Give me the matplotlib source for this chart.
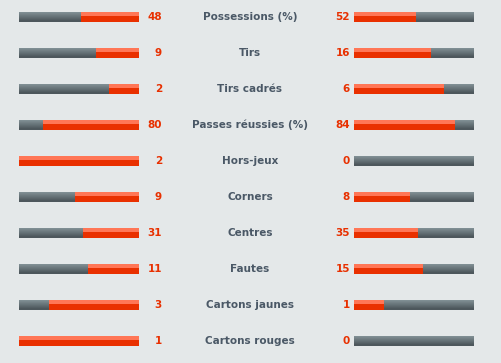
import numpy as np
import matplotlib
matplotlib.use("Agg")
import matplotlib.pyplot as plt
from matplotlib.colors import to_rgb

labels = ["Possessions (%)", "Tirs", "Tirs cadrés", "Passes réussies (%)", "Hors-jeux",
          "Corners", "Centres", "Fautes", "Cartons jaunes", "Cartons rouges"]
home = [48, 9, 2, 80, 2, 9, 31, 11, 3, 1]
away = [52, 16, 6, 84, 0, 8, 35, 15, 1, 0]

bg = "#e4e8e9"
red_top = "#ff7656"
red_bot = "#e93000"
gray_top = "#7f8e93"
gray_bot = "#4d575c"
txt_red = "#e83000"
txt_lab = "#4a5866"

W, H = 501, 363
fig = plt.figure(figsize=(W / 100, H / 100), dpi=100, facecolor=bg)

home = np.array(home, float)
away = np.array(away, float)
# percentage rows are scaled to 100, the others to the sum of both teams
tot = np.array([100 if "%" in l else h + a for l, h, a in zip(labels, home, away)], float)
tot[tot == 0] = 1
fh = home / tot
fa = away / tot
rows = np.arange(len(labels))

ylim = ((H - 17) / 36, -17 / 36)
bar_h = 9 / 36
nslice = 9


def grad_bars(ax, widths, c_top, c_bot, left=0):
    # draw bars as thin horizontal slices for a vertical gradient
    ct, cb = np.array(to_rgb(c_top)), np.array(to_rgb(c_bot))
    for k in range(nslice):
        t = k / (nslice - 1)
        col = ct * (1 - t) + cb * t
        off = -bar_h / 2 + (k + 0.5) * bar_h / nslice
        ax.barh(rows + off, widths, height=bar_h / nslice * 1.05, left=left,
                color=col, linewidth=0)


def red_bars(ax, widths, left=0):
    ax.barh(rows, widths, height=bar_h * 1.03, left=left, color=red_bot, linewidth=0)
    ax.barh(rows - bar_h * 0.29, widths, height=bar_h * 0.45, left=left,
            color=red_top, linewidth=0)


# left side
axl = fig.add_axes([19 / W, 0, 120 / W, 1])
grad_bars(axl, np.ones(len(rows)), gray_top, gray_bot)
red_bars(axl, fh)
axl.set_xlim(1, 0)
axl.set_ylim(*ylim)
axl.axis("off")

# right side
axr = fig.add_axes([354 / W, 0, 120 / W, 1])
grad_bars(axr, np.ones(len(rows)), gray_top, gray_bot)
red_bars(axr, fa)
axr.set_xlim(0, 1)
axr.set_ylim(*ylim)
axr.axis("off")

# texts
axt = fig.add_axes([0, 0, 1, 1])
axt.set_xlim(0, W)
axt.set_ylim(*ylim)
axt.axis("off")
for i in rows:
    axt.text(162, i, f"{int(home[i])}", ha="right", va="center", color=txt_red,
             fontsize=7.5, fontweight="bold")
    axt.text(350, i, f"{int(away[i])}", ha="right", va="center", color=txt_red,
             fontsize=7.5, fontweight="bold")
    axt.text(250, i, labels[i], ha="center", va="center", color=txt_lab,
             fontsize=7.5, fontweight="bold")

fig.savefig("out.png", dpi=100, facecolor=bg)
